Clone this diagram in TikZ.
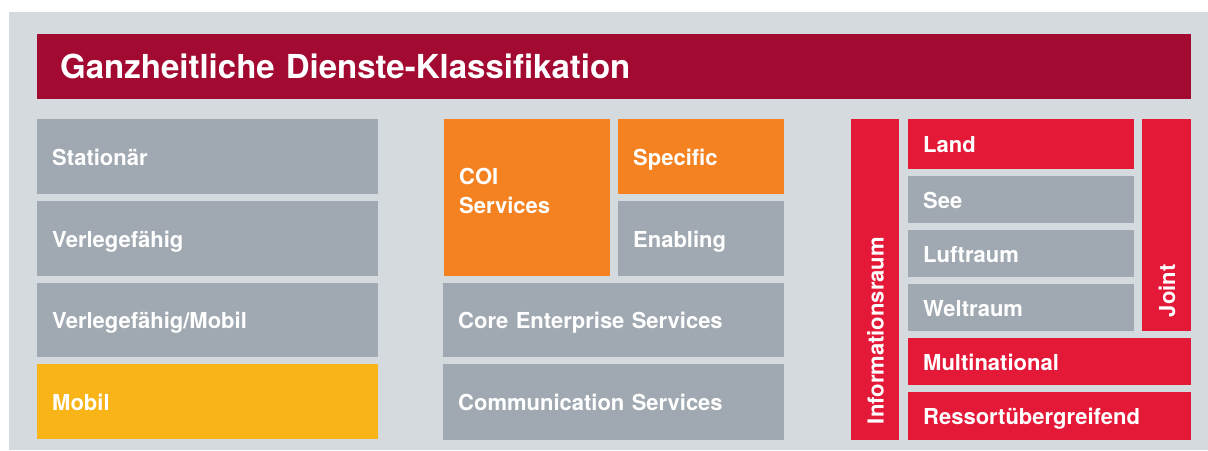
\documentclass[tikz,border=0pt]{standalone}
\usepackage{fontspec}
\setmainfont{TeX Gyre Heros}
\definecolor{bgcol}{HTML}{D5DADF}
\definecolor{titlecol}{HTML}{A30A31}
\definecolor{greycol}{HTML}{A0A9B1}
\definecolor{orangecol}{HTML}{F58220}
\definecolor{yellowcol}{HTML}{F9B418}
\definecolor{redcol}{HTML}{E31937}
\tikzset{
  cellbase/.style={anchor=north west, inner xsep=15pt, inner ysep=0pt, text=white,
    font=\bfseries\fontsize{22}{26}\selectfont, align=left},
  cell/.style={cellbase, text height=17pt, text depth=0pt},
  sidebar/.style={rotate=90, inner xsep=16pt, inner ysep=0pt, text=white,
    font=\bfseries\fontsize{22}{26}\selectfont, align=left, text height=17pt, text depth=0pt},
}
\begin{document}
\begin{tikzpicture}[x=1pt,y=-1pt]
\useasboundingbox (0,0) rectangle (1208,450);
\fill [bgcol] (9,12) rectangle (1208,450);
\node [cellbase, fill=titlecol, inner xsep=23pt, minimum height=65pt, text width=1108pt,
  font=\bfseries\fontsize{33}{38}\selectfont] (title) at (37,34) {Ganzheitliche Dienste-Klassifikation};
% Standorte
\node [cell, fill=greycol, minimum height=75pt, text width=311pt] (stationaer) at (37,119) {Stationär};
\node [cell, fill=greycol, minimum height=75pt, text width=311pt] (verlege) at (37,201) {Verlegefähig};
\node [cell, fill=greycol, minimum height=74pt, text width=311pt] (verlegemobil) at (37,283) {Verlegefähig/Mobil};
\node [cell, fill=yellowcol, minimum height=75pt, text width=311pt] (mobil) at (37,364) {Mobil};
% Dienste
\node [cellbase, fill=orangecol, minimum height=157pt, text width=136pt, text height=17pt, text depth=43pt,
  font=\bfseries\fontsize{22}{29}\selectfont] (coi) at (444,119) {COI\\Services};
\node [cell, fill=orangecol, minimum height=75pt, text width=136pt] (specific) at (618,119) {Specific};
\node [cell, fill=greycol, minimum height=75pt, text width=136pt] (enabling) at (618,201) {Enabling};
\node [cell, fill=greycol, minimum height=74pt, text width=311pt] (core) at (443,283) {Core Enterprise Services};
\node [cell, fill=greycol, minimum height=76pt, text width=311pt] (comm) at (443,364) {Communication Services};
% Informationsraum
\node [sidebar, fill=redcol, minimum height=48pt, text width=289pt] (inforaum) at (875,279.5) {Informationsraum};
\node [cell, fill=redcol, minimum height=50pt, text width=196pt] (land) at (908,119) {Land};
\node [cell, fill=greycol, minimum height=47pt, text width=196pt] (see) at (908,176) {See};
\node [cell, fill=greycol, minimum height=47pt, text width=196pt] (luft) at (908,230) {Luftraum};
\node [cell, fill=greycol, minimum height=47pt, text width=196pt] (welt) at (908,284) {Weltraum};
\node [sidebar, fill=redcol, minimum height=49pt, text width=184pt, inner xsep=14pt] (joint) at (1166.5,225) {Joint};
\node [cell, fill=redcol, minimum height=47pt, text width=253pt] (multi) at (908,338) {Multinational};
\node [cell, fill=redcol, minimum height=48pt, text width=253pt] (ressort) at (908,392) {Ressortübergreifend};
\end{tikzpicture}
\end{document}
